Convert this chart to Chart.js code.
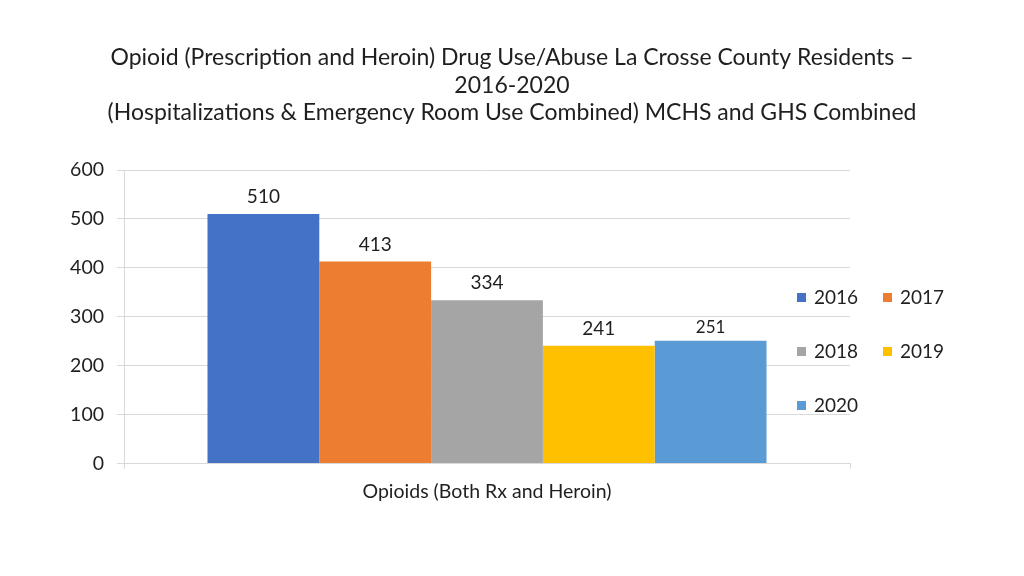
<!DOCTYPE html>
<html>
<head>
<meta charset="utf-8">
<script src="https://cdn.jsdelivr.net/npm/chart.js@4/dist/chart.umd.min.js"></script>
<style>
    html, body { margin: 0; padding: 0; background: #fff; }
    #wrap { width: 1024px; height: 576px; position: relative; }
</style>
</head>
<body>
<div id="wrap"><canvas id="opioidChart" width="1024" height="576"></canvas></div>
<script>
// chart data
const categories = ["Opioids (Both Rx and Heroin)"];
const years = ["2016", "2017", "2018", "2019", "2020"];
const counts = [510, 413, 334, 241, 251];
const yTicks = [0, 100, 200, 300, 400, 500, 600];
const titleLines = [
    "Opioid (Prescription and Heroin) Drug Use/Abuse La Crosse County Residents \u2013",
    "2016-2020",
    "(Hospitalizations & Emergency Room Use Combined) MCHS and GHS Combined"
];

const barColors = ["#4472C4", "#ED7D31", "#A5A5A5", "#FFC000", "#5B9BD5"];
const labelSizes = [19, 19, 19, 19, 17];
const FONT = "Lato, 'Open Sans', sans-serif";
const TEXT = "#1f1f1f";

// title centred over the whole page (the built-in one centres over the plot only)
const pageTitle = {
    id: "pageTitle",
    afterDraw(chart) {
        const ctx = chart.ctx;
        ctx.save();
        ctx.font = "23px " + FONT;
        ctx.fillStyle = TEXT;
        ctx.textAlign = "center";
        ctx.textBaseline = "middle";
        titleLines.forEach((line, i) => {
            ctx.fillText(line, chart.width / 2, 58 + i * 27.5);
        });
        ctx.restore();
    }
};

// value labels above each bar
const valueLabels = {
    id: "valueLabels",
    afterDatasetsDraw(chart) {
        const ctx = chart.ctx;
        ctx.save();
        ctx.fillStyle = TEXT;
        ctx.textAlign = "center";
        ctx.textBaseline = "middle";
        chart.data.datasets.forEach((ds, i) => {
            const bar = chart.getDatasetMeta(i).data[0];
            ctx.font = ds.labelSize + "px " + FONT;
            const lift = ds.labelSize < 19 ? 13 : 17;
            ctx.fillText(String(ds.data[0]), bar.x, bar.y - lift);
        });
        ctx.restore();
    }
};

// two-column legend, sitting over the right end of the plot
const gridLegend = {
    id: "gridLegend",
    afterDraw(chart) {
        const ctx = chart.ctx;
        const left = chart.chartArea.right - 53;
        const colGap = 86;
        const top = 297;
        const rowGap = 54;
        ctx.save();
        ctx.font = "19px " + FONT;
        ctx.textBaseline = "middle";
        ctx.textAlign = "left";
        chart.data.datasets.forEach((ds, i) => {
            const x = left + (i % 2) * colGap;
            const y = top + Math.floor(i / 2) * rowGap;
            ctx.fillStyle = ds.backgroundColor;
            ctx.fillRect(x, y - 4, 9, 9);
            ctx.fillStyle = TEXT;
            ctx.fillText(ds.label, x + 17, y + 1);
        });
        ctx.restore();
    }
};

const datasets = years.map((yr, i) => ({
    label: yr,
    data: [counts[i]],
    backgroundColor: barColors[i],
    labelSize: labelSizes[i],
    barPercentage: 1.0,
    categoryPercentage: 0.77
}));

new Chart(document.getElementById("opioidChart"), {
    type: "bar",
    data: { labels: categories, datasets: datasets },
    options: {
        responsive: false,
        animation: false,
        layout: { padding: { left: 0, right: 174, top: 170, bottom: 62 } },
        plugins: {
            legend: { display: false },
            tooltip: { enabled: false },
            title: { display: false }
        },
        scales: {
            x: {
                grid: { display: true, drawOnChartArea: false, drawTicks: true, tickLength: 5, color: "#d9d9d9", offset: true },
                border: { color: "#d9d9d9" },
                ticks: { color: TEXT, padding: 11, font: { family: FONT, size: 19.5 } }
            },
            y: {
                min: 0,
                max: 600,
                afterBuildTicks(scale) { scale.ticks = yTicks.map(v => ({ value: v })); },
                afterFit(scale) { scale.width = 124; },
                grid: { color: "#d9d9d9", drawTicks: true, tickLength: 7 },
                border: { color: "#d9d9d9" },
                ticks: { color: TEXT, padding: 13, font: { family: FONT, size: 19.5 } }
            }
        }
    },
    plugins: [pageTitle, valueLabels, gridLegend]
});
</script>
</body>
</html>
